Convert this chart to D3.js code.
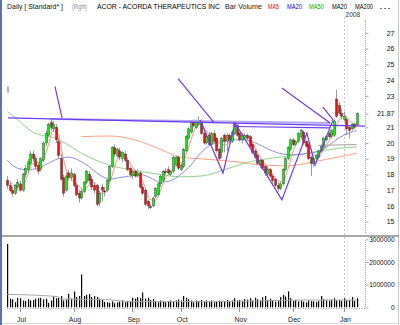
<!DOCTYPE html>
<html>
<head>
<meta charset="utf-8">
<script src="https://cdn.jsdelivr.net/npm/d3@7"></script>
<style>
  body { margin: 0; background: #fff; }
  svg { display: block; font-family: "Liberation Sans", Arial, sans-serif; }
</style>
</head>
<body>
<svg id="chart" width="400" height="325"></svg>
<script>
// trading calendar
const firstDay = "2007-06-25", lastDay = "2008-01-09";
const holidays = ["2007-07-04", "2007-09-03", "2007-11-22", "2007-12-25", "2008-01-01"];

// daily candles, one entry per trading day
const opens = [17.6,17.3,17.0,16.8,17.2,17.4,17.0,18.0,18.3,18.7,19.3,19.0,18.6,18.3,18.9,20.0,20.5,21.3,20.9,21.0,
  20.1,19.0,17.8,17.0,18.1,17.8,18.0,17.3,16.8,16.5,16.9,17.5,18.0,17.7,17.3,17.3,16.2,17.2,16.95,17.0,
  17.6,18.5,19.7,19.2,19.5,19.0,19.3,18.9,18.4,17.9,18.2,17.9,18.1,17.2,17.0,16.3,15.95,16.0,16.6,16.7,
  17.4,17.6,18.2,18.3,18.0,18.2,18.6,19.1,18.3,18.5,19.5,20.3,20.7,21.3,21.0,21.2,21.4,20.6,20.0,20.5,
  19.9,20.6,20.3,19.6,19.4,20.5,20.1,20.5,20.1,20.6,21.1,20.6,20.2,20.3,20.5,20.4,19.9,19.5,19.2,18.6,
  18.9,18.5,18.0,18.3,17.9,17.7,17.3,17.1,17.4,18.3,19.0,19.6,20.2,19.9,20.1,20.4,20.7,20.1,19.9,19.1,
  18.7,19.0,19.1,19.5,19.7,20.2,20.6,20.4,20.5,22.8,22.4,21.9,21.5,21.5,21.0,20.9,21.2,21.15];
const highs = [17.9,17.5,17.2,17.4,17.7,17.6,18.1,18.6,19.0,19.5,19.5,19.2,18.8,19.1,20.1,20.8,21.3,21.5,21.4,21.2,
  20.3,19.3,18.0,18.1,18.3,18.4,18.1,17.5,17.0,17.1,17.6,18.3,18.2,17.9,17.5,17.4,16.9,17.4,17.2,17.7,
  18.6,19.8,19.9,19.7,19.7,19.5,19.5,19.0,18.5,18.3,18.3,18.3,18.2,17.4,17.1,16.4,16.1,16.6,17.2,17.5,
  18.0,18.3,18.4,18.5,18.3,19.2,19.2,19.2,18.7,19.7,20.5,21.0,21.4,21.5,21.5,21.7,21.5,20.7,20.6,20.7,
  20.7,20.8,20.4,19.7,20.4,20.6,20.6,20.6,20.8,21.4,21.2,20.7,20.6,20.6,20.6,20.5,20.0,19.6,19.3,19.0,
  19.0,18.6,18.5,18.4,18.0,17.8,17.5,17.5,18.4,19.1,19.8,20.3,20.3,20.2,20.7,20.9,20.8,20.2,20.0,19.2,
  19.1,19.3,19.6,19.9,20.4,20.5,20.7,20.9,21.5,23.4,22.6,22.2,22.0,21.6,21.1,21.3,21.3,21.95];
const lows = [17.1,16.9,16.6,16.7,17.0,16.9,16.9,17.8,18.1,18.6,18.8,18.3,18.0,18.2,18.8,19.8,20.4,20.8,20.7,20.0,
  19.0,17.6,16.6,16.9,17.6,17.6,17.2,16.6,16.2,16.4,16.8,17.4,17.4,17.0,16.8,16.0,16.0,16.3,16.6,16.9,
  17.5,18.4,19.1,19.1,18.9,18.8,18.8,18.2,17.8,17.7,17.8,17.8,17.1,16.7,16.0,15.8,15.8,15.9,16.5,16.6,
  17.2,17.5,18.0,18.0,17.9,18.1,18.5,18.3,18.2,18.4,19.4,20.2,20.6,21.0,20.9,21.1,20.5,19.9,19.9,19.8,
  19.8,20.0,19.4,18.9,19.05,19.4,19.5,20.0,20.0,20.5,20.4,20.1,20.0,20.2,20.2,19.7,19.3,19.0,18.6,18.4,
  18.3,17.9,17.8,17.8,17.4,17.2,16.9,17.0,17.3,18.2,18.9,19.5,19.8,19.8,20.0,20.3,19.9,19.7,18.9,17.9,
  18.5,18.9,19.0,19.4,19.6,20.1,20.3,20.3,20.4,21.6,21.8,21.5,21.4,20.5,20.3,20.8,20.9,21.1];
const closes = [17.3,17.0,16.8,17.3,17.5,17.0,18.0,18.4,18.8,19.3,19.0,18.5,18.2,19.0,20.0,20.6,21.2,21.0,21.2,20.2,
  19.2,17.7,16.8,17.9,17.8,18.1,17.3,16.7,16.5,16.9,17.5,18.2,17.6,17.2,17.0,16.1,16.8,17.0,16.95,17.6,
  18.5,19.7,19.3,19.6,19.1,19.4,18.9,18.3,18.0,18.2,17.9,18.1,17.2,16.8,16.1,16.0,15.95,16.5,17.1,17.4,
  17.9,18.2,18.2,18.1,18.2,19.1,19.1,18.4,18.6,19.6,20.4,20.9,21.3,21.1,21.4,21.45,20.6,20.0,20.4,19.9,
  20.6,20.1,19.5,19.0,20.3,20.1,20.5,20.2,20.7,21.3,20.5,20.2,20.5,20.5,20.3,19.8,19.4,19.1,18.7,18.9,
  18.4,18.1,18.3,17.9,17.6,17.3,17.1,17.4,18.3,19.0,19.7,20.2,19.9,20.1,20.6,20.8,20.0,19.8,19.0,18.7,
  19.0,19.2,19.5,19.8,20.3,20.4,20.4,20.8,21.4,21.7,21.9,21.7,21.7,20.9,20.8,21.2,21.0,21.87];
// volume in millions of shares
const volumes = [2.8,0.38,0.35,0.22,0.42, 0.4,0.3,0.28,0.36,0.3, 0.32,0.38,0.4,0.42,0.35, 0.38,0.2,0.3,0.48,0.4,
  0.42,0.5,0.3,0.34,0.6,0.38, 0.7,0.45,0.5,1.45,0.5, 0.55,0.58,0.45,0.5,0.46,0.38, 0.32,0.24,0.22,0.2,0.26,0.18,
  0.22,0.25,0.3,0.22,0.28,0.25, 0.42,0.38,0.45,0.4,0.65,0.38, 0.42,0.32,0.36,0.28,0.22,0.3, 0.25,0.22,0.28,0.3,0.24,0.3,
  0.34,0.3,0.5,0.42,0.35,0.3, 0.22,0.3,0.28,0.32,0.25,0.3, 0.26,0.3,0.22,0.28,0.3,0.24, 0.28,0.32,0.25,0.3,0.4,0.3,
  0.32,0.28,0.36,0.34,0.4,0.3, 0.42,0.35,0.3,0.45,0.5,0.32, 0.38,0.3,0.25,0.3,0.45,0.55, 0.48,0.7,0.4,0.28,0.32,0.26,
  0.3,0.25,0.22,0.3,0.28,0.26, 0.24,0.28,0.5,0.36,0.32,0.28, 0.34,0.4,0.3,0.32,0.28,0.4, 0.3,0.32,0.45,0.28,0.4];

// moving averages, [day index, value]
const ma5 = [[0,17.7],[2,17.4],[4,17.18],[6,17.32],[8,17.94],[10,18.7],[12,18.76],[14,18.94],[16,19.8],[18,20.8],
  [20,20.56],[22,19.02],[24,17.88],[26,17.58],[28,17.28],[30,16.98],[32,17.34],[34,17.5],[36,16.94],[38,16.77],
  [40,17.37],[42,18.41],[44,19.24],[46,19.26],[48,18.74],[50,18.26],[52,17.88],[54,17.22],[56,16.41],[58,16.33],
  [60,16.97],[62,17.76],[64,18.12],[66,18.54],[68,18.68],[70,19.22],[72,20.16],[74,21.02],[76,21.17],[78,20.77],
  [80,20.3],[82,20.1],[84,19.9],[86,19.88],[88,20.36],[90,20.64],[92,20.64],[94,20.4],[96,20.1],[98,19.46],
  [100,18.9],[102,18.48],[104,18.06],[106,17.64],[108,17.54],[110,18.3],[112,19.42],[114,20.1],[116,20.28],[118,20.04],
  [120,19.3],[122,19.08],[124,19.56],[126,20.08],[128,20.66],[130,21.4],[132,21.8],[134,21.5],[136,21.2],[137,21.2]];
const ma20 = [[0,18.9],[4,18.4],[8,18.3],[12,18.4],[16,18.7],[20,19.0],[24,19.1],[28,18.9],[32,18.5],[36,18.0],
  [40,17.7],[44,17.8],[48,17.9],[52,18.0],[56,17.8],[60,17.5],[64,17.6],[68,18.0],[72,18.6],[76,19.4],[80,19.9],
  [84,20.1],[88,20.2],[92,20.2],[96,20.1],[100,19.8],[104,19.5],[108,19.3],[112,19.25],[116,19.3],[120,19.4],
  [124,19.6],[128,20.1],[132,20.5],[137,20.8]];
const ma50 = [[0,22.0],[4,21.5],[10,20.7],[19,20.3],[32,19.1],[40,18.6],[52,18.2],[60,18.0],[68,17.85],[76,17.9],
  [87,18.4],[95,18.8],[107,19.1],[120,19.4],[129,19.65],[137,19.75]];
const ma200 = [[29,20.4],[40,20.45],[50,20.2],[60,19.6],[68,19.1],[80,18.95],[90,18.8],[100,18.6],[110,18.55],
  [120,18.8],[128,19.05],[137,19.35]];
const maGray = [[122,19.85],[137,19.9]];
const volMA = [[0,0.57],[20,0.47],[21,0.37],[40,0.33],[49,0.25],[75,0.25],[99,0.28],[115,0.32],[137,0.32]];

// hand-drawn trend lines, [day index, price]
const darkLines = [
  [[0.3,21.6],[140.3,21.08]],
  [[89.3,21.05],[126.6,20.96]],
  [[18.7,23.6],[21.5,21.6]],
  [[67,24.1],[81.1,21.3]],
  [[75.6,21.47],[84.6,18.09],[89.3,21.27],[107.7,16.38],[117.5,20.64],[120.7,18.6],[127.8,21.47]],
  [[107.7,23.5],[126.6,21.27]],
  [[123.8,22.29],[127.8,21.47]]
];
const paleLines = [
  [[16.8,21.53],[126.6,21.27]],
  [[0.3,23.6],[0.3,23.2]]
];

const priceTicks = [15,16,17,18,19,20,21,23,24,25,26,27];
const lastPrice = 21.87;
const volTicks = [0,1,2,3];

// ---- calendar
const parse = d3.utcParse("%Y-%m-%d"), fmt = d3.utcFormat("%Y-%m-%d");
const days = d3.utcDays(parse(firstDay), d3.utcDay.offset(parse(lastDay), 1))
  .filter(d => d.getUTCDay() % 6 !== 0 && !holidays.includes(fmt(d)));
const monthStarts = days.map((d, i) => i).filter(i => i > 0 && days[i].getUTCMonth() !== days[i - 1].getUTCMonth());

const svg = d3.select("#chart");
const axisX = 365;

const x = d3.scaleLinear().domain([0, days.length - 1]).range([7.25, 7.25 + (days.length - 1) * 2.55]);
const y = d3.scaleLinear().domain([15, 27]).range([221.6, 33]);
const yv = d3.scaleLinear().domain([0, 3]).range([307.3, 239.3]);

// frame
svg.append("rect").attr("x", 0).attr("y", 0).attr("width", 2).attr("height", 325).attr("fill", "#5a74b0");
svg.append("line").attr("x1", 398.5).attr("x2", 398.5).attr("y1", 0).attr("y2", 325).attr("stroke", "#c8c8c8");
svg.append("line").attr("x1", 2).attr("x2", 399).attr("y1", 236).attr("y2", 236)
  .attr("stroke", "#8a8a8a").attr("stroke-width", 1.5);
svg.append("line").attr("x1", 2).attr("x2", 399).attr("y1", 323.5).attr("y2", 323.5).attr("stroke", "#d8d8d8");

// year divider
const jan = monthStarts.find(i => days[i].getUTCMonth() === 0);
svg.append("line").attr("x1", Math.round(x(jan)) + 0.5).attr("x2", Math.round(x(jan)) + 0.5)
  .attr("y1", 17).attr("y2", 310).attr("stroke", "#c8c8c8").attr("stroke-dasharray", "2,2");
svg.append("text").attr("x", x(jan) + 9).attr("y", 17).attr("text-anchor", "middle")
  .attr("font-size", 6.5).attr("fill", "#333").text(d3.utcFormat("%Y")(days[jan]));

// title
const title = [
  { t: "Daily [ Standard* ]", x0: 7, x1: 63, c: "#111" },
  { t: "(Right)", x0: 72, x1: 87, c: "#888" },
  { t: "ACOR - ACORDA THERAPEUTICS INC", x0: 97, x1: 220, c: "#000" },
  { t: "Bar Volume", x0: 225, x1: 262, c: "#222" },
  { t: "MA5", x0: 268, x1: 279, c: "#ee0000" },
  { t: "MA20", x0: 287, x1: 302, c: "#0000cc" },
  { t: "MA50", x0: 309, x1: 324, c: "#00aa00" },
  { t: "MA20", x0: 332, x1: 347, c: "#000" },
  { t: "MA200", x0: 355, x1: 373, c: "#000" },
  { t: "...", x0: 379, x1: 391, c: "#000" }
];
svg.append("g").selectAll("text").data(title).join("text")
  .attr("x", d => d.x0).attr("y", 9)
  .attr("textLength", d => d.x1 - d.x0).attr("lengthAdjust", "spacingAndGlyphs")
  .attr("font-size", 7).attr("fill", d => d.c).text(d => d.t);

// moving averages
const line = d3.line().x(d => x(d[0])).y(d => y(d[1])).curve(d3.curveMonotoneX);
const mas = [
  { d: ma200, c: "#ffa080" },
  { d: ma50, c: "#90d090" },
  { d: ma20, c: "#8c8ce6" },
  { d: maGray, c: "#a0a0a0" },
  { d: ma5, c: "#ff8c8c" }
];
svg.append("g").selectAll("path").data(mas).join("path")
  .attr("d", d => line(d.d)).attr("fill", "none").attr("stroke", d => d.c).attr("stroke-width", 1);

// candles
const idx = d3.range(days.length);
const cg = svg.append("g");
cg.selectAll("line").data(idx).join("line")
  .attr("x1", i => Math.round(x(i)) + 0.5).attr("x2", i => Math.round(x(i)) + 0.5)
  .attr("y1", i => y(highs[i])).attr("y2", i => y(lows[i]))
  .attr("stroke", "#9a9a9a");
cg.selectAll("rect").data(idx).join("rect")
  .attr("x", i => Math.round(x(i)) - 0.5)
  .attr("width", 2.2)
  .attr("y", i => y(Math.max(opens[i], closes[i])))
  .attr("height", i => Math.max(1, Math.abs(y(opens[i]) - y(closes[i]))))
  .attr("fill", i => closes[i] > opens[i] ? "#11ee11" : closes[i] < opens[i] ? "#ee1111" : "#222")
  .attr("stroke", "#333").attr("stroke-width", 0.4);

// trend lines
const tline = d3.line().x(d => x(d[0])).y(d => y(d[1]));
svg.append("g").selectAll("path").data(paleLines).join("path")
  .attr("d", tline).attr("fill", "none").attr("stroke", "#b4a6f2").attr("stroke-width", 2);
svg.append("g").selectAll("path").data(darkLines).join("path")
  .attr("d", tline).attr("fill", "none").attr("stroke", "#6a3cf0").attr("stroke-width", 1.2);

// price axis
const pa = svg.append("g").attr("transform", `translate(${axisX + 0.5},0)`)
  .call(d3.axisRight(y).tickValues([...priceTicks, lastPrice]).tickSize(3)
    .tickFormat(d => d === lastPrice ? d.toFixed(2) : d));
pa.select(".domain").attr("d", `M0,20V234`).attr("stroke", "#aaa").attr("stroke-dasharray", "1,1");
pa.selectAll(".tick line").attr("stroke", "#aaa");
pa.selectAll(".tick text").attr("x", 29).attr("text-anchor", "end")
  .attr("font-size", 7).attr("font-family", "Liberation Sans, Arial, sans-serif").attr("fill", "#111");

// volume bars
svg.append("g").selectAll("rect").data(idx).join("rect")
  .attr("x", i => Math.round(x(i)))
  .attr("width", 1.2)
  .attr("y", i => yv(volumes[i]))
  .attr("height", i => yv(0) - yv(volumes[i]))
  .attr("fill", "#000");
svg.append("path").attr("d", line.y(d => yv(d[1]))(volMA))
  .attr("fill", "none").attr("stroke", "#a8a8a8").attr("stroke-width", 1);
svg.append("line").attr("x1", 7).attr("x2", axisX).attr("y1", 308.5).attr("y2", 308.5)
  .attr("stroke", "#999").attr("stroke-dasharray", "1,1.55");

// volume axis
const va = svg.append("g").attr("transform", `translate(${axisX + 0.5},0)`)
  .call(d3.axisRight(yv).tickValues(volTicks).tickSize(3).tickFormat(d => d3.format("d")(d * 1e6)));
va.select(".domain").attr("d", `M0,240V308`).attr("stroke", "#aaa").attr("stroke-dasharray", "1,1");
va.selectAll(".tick line").attr("stroke", "#aaa");
va.selectAll(".tick text").attr("x", 29).attr("text-anchor", "end")
  .attr("font-size", 6.5).attr("font-family", "Liberation Sans, Arial, sans-serif").attr("fill", "#111");

// month axis
const mg = svg.append("g");
mg.selectAll("line").data(monthStarts).join("line")
  .attr("x1", i => Math.round(x(i)) + 0.5).attr("x2", i => Math.round(x(i)) + 0.5)
  .attr("y1", 308).attr("y2", 312).attr("stroke", "#999");
mg.selectAll("text").data(monthStarts).join("text")
  .attr("x", i => x(i) + 1.5).attr("y", 322).attr("text-anchor", "middle")
  .attr("font-size", 7).attr("fill", "#222")
  .text(i => d3.utcFormat("%b")(days[i]));
</script>
</body>
</html>
